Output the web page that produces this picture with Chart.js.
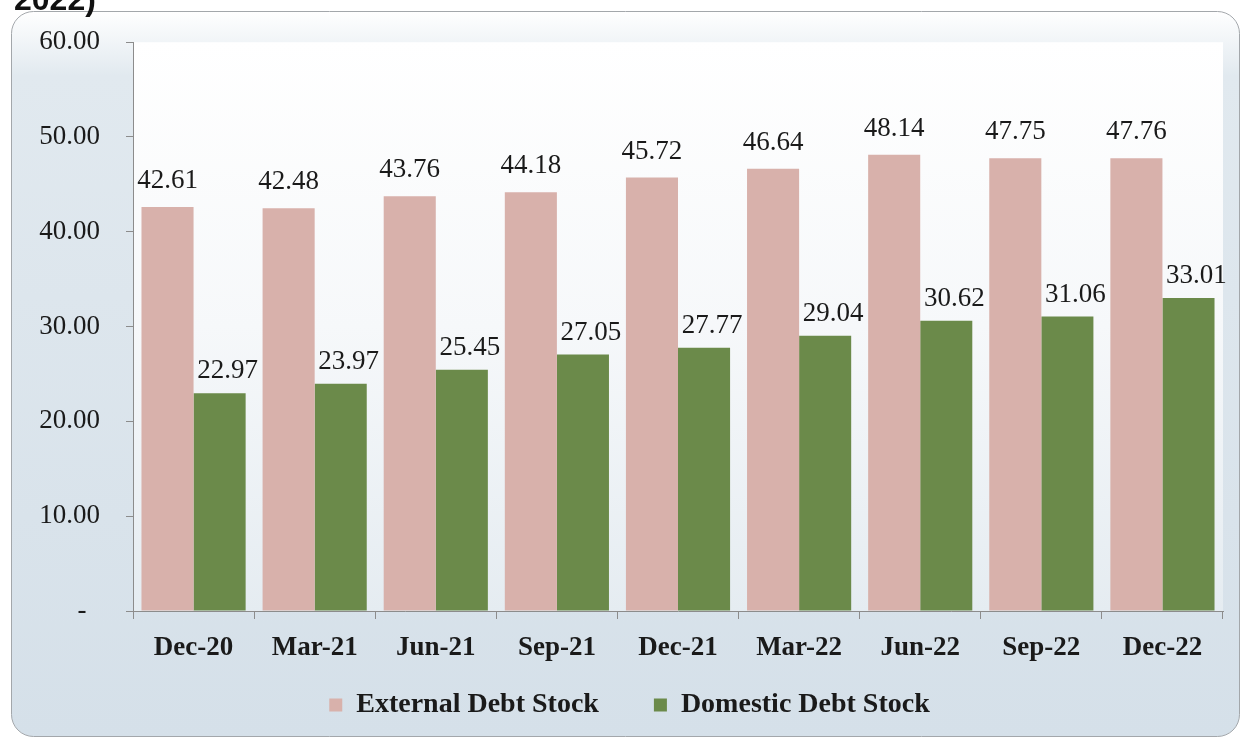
<!DOCTYPE html>
<html>
<head>
<meta charset="utf-8">
<script src="https://cdn.jsdelivr.net/npm/chart.js@4.4.0/dist/chart.umd.min.js"></script>
<style>
    html, body { margin: 0; padding: 0; background: #ffffff; }
</style>
</head>
<body>
<canvas id="myChart" width="1242" height="739"></canvas>
<script>
// quarters and debt stock values
const kvartalid = ['Dec-20', 'Mar-21', 'Jun-21', 'Sep-21', 'Dec-21', 'Mar-22', 'Jun-22', 'Sep-22', 'Dec-22'];
const valisvolg = [42.61, 42.48, 43.76, 44.18, 45.72, 46.64, 48.14, 47.75, 47.76];
const sisevolg = [22.97, 23.97, 25.45, 27.05, 27.77, 29.04, 30.62, 31.06, 33.01];
const ySammud = [0, 10, 20, 30, 40, 50, 60];

const serif = '"Liberation Serif", "Times New Roman", serif';
const tekstiVarv = '#1a1a1a';
const teljeVarv = '#8c8c8c';

// frame, gradient fill and the cut off heading line
const taust = {
    id: 'taust',
    beforeDraw(chart) {
        const ctx = chart.ctx;
        const a = chart.chartArea;
        ctx.save();
        let g = ctx.createLinearGradient(0, 11, 0, 737);
        g.addColorStop(0, '#ffffff');
        g.addColorStop(0.09, '#e1e9ef');
        g.addColorStop(1, '#d5e0e9');
        ctx.beginPath();
        ctx.roundRect(11.5, 11.5, 1228, 725, 22);
        ctx.fillStyle = g;
        ctx.fill();
        ctx.strokeStyle = '#a3a7ab';
        ctx.lineWidth = 1;
        ctx.stroke();

        g = ctx.createLinearGradient(0, a.top, 0, a.bottom);
        g.addColorStop(0, '#ffffff');
        g.addColorStop(0.5, '#f6f8fa');
        g.addColorStop(1, '#e5ecf1');
        ctx.fillStyle = g;
        ctx.fillRect(a.left, a.top, a.width, a.height);

        ctx.fillStyle = '#111111';
        ctx.font = 'bold 32px "Liberation Sans", Arial, sans-serif';
        ctx.textBaseline = 'alphabetic';
        ctx.fillText('2022)', 14, 10);
        ctx.restore();
    }
};

// value labels over the bars
const nihked = [{dx: 0, dy: 19}, {dx: 8, dy: 15}];
const sildid = {
    id: 'sildid',
    afterDatasetsDraw(chart) {
        const ctx = chart.ctx;
        ctx.save();
        ctx.font = '27px ' + serif;
        ctx.fillStyle = tekstiVarv;
        ctx.textAlign = 'center';
        ctx.textBaseline = 'alphabetic';
        chart.data.datasets.forEach((ds, i) => {
            chart.getDatasetMeta(i).data.forEach((bar, j) => {
                ctx.fillText(ds.data[j].toFixed(2), bar.x + nihked[i].dx, bar.y - nihked[i].dy);
            });
        });
        ctx.restore();
    }
};

const ctx = document.getElementById('myChart').getContext('2d');
const chart = new Chart(ctx, {
    type: 'bar',
    data: {
        labels: kvartalid,
        datasets: [{
            label: 'External Debt Stock',
            backgroundColor: '#d8b1ab',
            data: valisvolg,
        }, {
            label: 'Domestic Debt Stock',
            backgroundColor: '#6b8a4a',
            data: sisevolg,
        }]
    },
    options: {
        responsive: false,
        animation: false,
        layout: { padding: { left: 36, right: 19, top: 40, bottom: 10 } },
        datasets: { bar: { categoryPercentage: 0.86, barPercentage: 1.0 } },
        plugins: {
            tooltip: { enabled: false },
            legend: {
                position: 'bottom',
                labels: {
                    boxWidth: 13,
                    boxHeight: 13,
                    padding: 27,
                    color: tekstiVarv,
                    font: { family: serif, size: 28, weight: 'bold' },
                    // wider gap between the two entries
                    generateLabels(chart) {
                        const items = Chart.defaults.plugins.legend.labels.generateLabels(chart);
                        items[0].text += '    ';
                        return items;
                    }
                }
            }
        },
        scales: {
            x: {
                grid: { drawOnChartArea: false, tickLength: 8, color: teljeVarv },
                border: { color: teljeVarv },
                ticks: { color: tekstiVarv, padding: 13, font: { family: serif, size: 27, weight: 'bold' } },
                afterFit(s) { s.height = 53; }
            },
            y: {
                min: 0,
                max: 60,
                afterBuildTicks(s) { s.ticks = ySammud.map(v => ({ value: v })); },
                grid: { drawOnChartArea: false, tickLength: 7, color: teljeVarv },
                border: { color: teljeVarv },
                ticks: {
                    color: tekstiVarv,
                    padding: 26,
                    font: { family: serif, size: 27 },
                    callback: v => v === 0 ? '-  ' : v.toFixed(2)
                },
                afterFit(s) { s.width = 97; }
            }
        }
    },
    plugins: [taust, sildid]
});
</script>
</body>
</html>
